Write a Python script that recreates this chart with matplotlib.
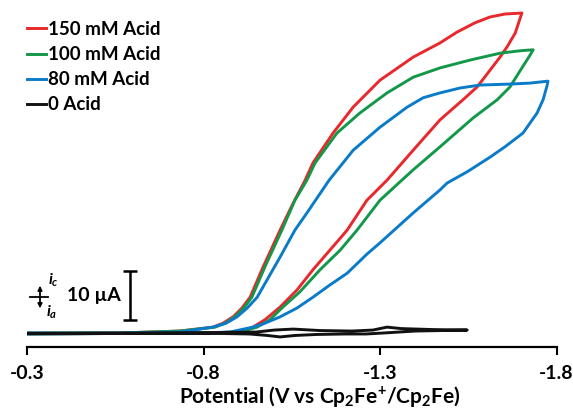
import matplotlib
matplotlib.use("Agg")
import matplotlib.pyplot as plt
from matplotlib.lines import Line2D

plt.rcParams['font.family'] = ['Lato', 'DejaVu Sans']
plt.rcParams['font.weight'] = 'bold'
plt.rcParams['axes.labelweight'] = 'bold'
plt.rcParams['mathtext.fontset'] = 'custom'
plt.rcParams['mathtext.rm'] = 'Lato:bold'
plt.rcParams['mathtext.it'] = 'Lato:italic:bold'
plt.rcParams['mathtext.bf'] = 'Lato:bold'

# ---------------- data (Potential / V, current / uA) ----------------
labels = ["150 mM Acid", "100 mM Acid", "80 mM Acid", "0 Acid"]
colors = ["#E8282C", "#13984A", "#0A7BC8", "#111111"]

red_v = [-0.300, -0.563, -0.733, -0.827, -0.855, -0.884, -0.909, -0.932, -0.969, -1.017, -1.054,
         -1.088, -1.110, -1.167, -1.224, -1.300, -1.394, -1.470, -1.518, -1.569, -1.612,
         -1.654, -1.702,
         -1.683, -1.660, -1.640, -1.606, -1.575, -1.535, -1.470, -1.394, -1.320, -1.263,
         -1.207, -1.158, -1.110, -1.065, -1.017, -0.974, -0.940, -0.903, -0.790, -0.300]
red_i = [0.0, 0.0, 0.4, 1.2, 2.0, 3.3, 5.1, 7.3, 13.5, 21.0, 26.5,
         31.2, 34.7, 40.8, 46.1, 51.6, 56.3, 59.2, 61.4, 63.3, 64.5,
         65.1, 65.3,
         61.2, 58.4, 56.3, 53.1, 50.2, 47.6, 43.5, 37.3, 31.2, 27.1,
         21.0, 16.9, 12.9, 8.8, 5.3, 2.7, 1.2, 0.2, 0.0, -0.2]

green_v = [-0.300, -0.563, -0.733, -0.833, -0.861, -0.889, -0.914, -0.937, -0.974, -1.022, -1.059,
           -1.093, -1.116, -1.178, -1.243, -1.320, -1.394, -1.470, -1.555, -1.640, -1.697, -1.734,
           -1.725, -1.702, -1.668, -1.632, -1.564, -1.470, -1.394, -1.362, -1.300, -1.235,
           -1.187, -1.130, -1.073, -1.025, -0.988, -0.952, -0.903, -0.790, -0.300]
green_i = [0.0, 0.0, 0.4, 1.2, 2.0, 3.3, 5.1, 7.3, 13.5, 21.0, 27.1,
           31.2, 34.7, 40.8, 44.9, 49.0, 52.2, 54.1, 55.7, 57.1, 57.6, 57.8,
           56.7, 54.1, 50.2, 47.6, 43.9, 38.0, 33.3, 31.2, 27.1, 21.0,
           16.9, 12.9, 8.4, 5.3, 2.7, 1.2, 0.2, 0.0, -0.2]

blue_v = [-0.300, -0.563, -0.733, -0.827, -0.864, -0.895, -0.924, -0.952, -1.017, -1.059, -1.093,
          -1.156, -1.224, -1.300, -1.377, -1.422, -1.470, -1.527, -1.583, -1.668, -1.725, -1.776,
          -1.773, -1.762, -1.745, -1.705, -1.654, -1.612, -1.547, -1.490, -1.470, -1.394,
          -1.300, -1.263, -1.207, -1.158, -1.110, -1.065, -1.017, -0.974, -0.940, -0.875,
          -0.790, -0.300]
blue_i = [0.0, 0.0, 0.2, 1.2, 2.0, 3.3, 5.1, 7.3, 15.5, 21.0, 24.5,
          31.2, 37.3, 42.0, 46.1, 48.0, 49.0, 50.0, 50.6, 50.8, 51.0, 51.4,
          50.4, 47.6, 44.9, 40.8, 38.0, 35.9, 32.9, 30.6, 29.2, 24.5,
          18.4, 16.1, 12.2, 9.8, 7.3, 5.1, 3.3, 2.0, 1.2, 0.2,
          0.0, -0.2]

black_v = [-0.300, -0.60, -0.85, -0.93, -0.98, -1.017, -1.06, -1.12, -1.20, -1.26, -1.31, -1.40, -1.547,
           -1.45, -1.36, -1.32, -1.28, -1.22, -1.13, -1.054, -1.00, -0.95, -0.85, -0.300]
black_i = [-0.1, -0.1, -0.1, -0.2, -0.5, -0.8, -0.5, -0.3, -0.2, -0.2, 0.0, 0.4, 0.6,
           0.7, 0.9, 1.2, 0.6, 0.4, 0.5, 0.8, 0.6, 0.2, 0.1, -0.1]

xticks = [-0.3, -0.8, -1.3, -1.8]
xtick_labels = ["-0.3", "-0.8", "-1.3", "-1.8"]
scale_bar_uA = 10

# ---------------- figure ----------------
W, H = 573, 412
PX_PER_V = 353.0
PX_PER_UA = 4.9
fig = plt.figure(figsize=(W / 100, H / 100), dpi=100)
ax = fig.add_axes([27 / W, (H - 347) / H, 546 / W, 347 / H])

series = [(red_v, red_i), (green_v, green_i), (blue_v, blue_i), (black_v, black_i)]
for (v, i), c in zip(series, colors):
    ax.plot(v, i, color=c, lw=2.1, solid_joinstyle='round', solid_capstyle='round')

ax.set_xlim(-0.3, -0.3 - 546 / PX_PER_V)
ax.set_ylim(-14 / PX_PER_UA, 333 / PX_PER_UA)

for s in ['left', 'right', 'top']:
    ax.spines[s].set_visible(False)
ax.spines['bottom'].set_linewidth(1.6)
ax.spines['bottom'].set_bounds(-1.8, -0.3)
ax.set_yticks([])
ax.set_xticks(xticks)
ax.set_xticklabels(xtick_labels)
ax.tick_params(axis='x', direction='out', length=6, width=1.5, pad=7, labelsize=14)

ax.set_xlabel(r'Potential (V vs Cp$_2$Fe$^{+}$/Cp$_2$Fe)', fontsize=15)
ax.xaxis.set_label_coords((320 - 27) / 546, -(384 - 347) / 347)

# legend
handles = [Line2D([0], [0], color=c, lw=2.1) for c in colors]
leg = ax.legend(handles, labels, loc='upper left', bbox_to_anchor=(0.0, 1 - 21 / 347),
                frameon=False, fontsize=13.5, handlelength=1.0, handletextpad=0.12,
                labelspacing=0.43, borderaxespad=0.0, borderpad=0.0)

# scale bar (10 uA)
xb = -0.3 - (130 - 27) / PX_PER_V
yb0 = (333 - 320) / PX_PER_UA
ax.errorbar([xb], [yb0 + scale_bar_uA / 2], yerr=[scale_bar_uA / 2], color='black',
            lw=1.8, capsize=5, capthick=1.8, fmt='none')
ax.text(-0.3 - (94 - 27) / PX_PER_V, yb0 + scale_bar_uA / 2, "10 µA", ha='center', va='center',
        fontsize=14)

# current direction symbol
def fx(px):
    return px / W
def fy(py):
    return 1 - py / H
fig.add_artist(Line2D([fx(40), fx(40)], [fy(288), fy(306)], color='black', lw=1.3))
fig.add_artist(Line2D([fx(30), fx(48)], [fy(297), fy(297)], color='black', lw=1.3))
ax.annotate('', xy=(fx(40), fy(283)), xytext=(fx(40), fy(292)), xycoords='figure fraction',
            arrowprops=dict(arrowstyle='-|>', color='black', lw=1.0, mutation_scale=7))
ax.annotate('', xy=(fx(40), fy(311)), xytext=(fx(40), fy(302)), xycoords='figure fraction',
            arrowprops=dict(arrowstyle='-|>', color='black', lw=1.0, mutation_scale=7))
fig.text(fx(48), fy(280), r'$i_c$', fontsize=11.5, ha='left', va='center')
fig.text(fx(46), fy(312), r'$i_a$', fontsize=11.5, ha='left', va='center')

fig.savefig("out.png", dpi=100)
